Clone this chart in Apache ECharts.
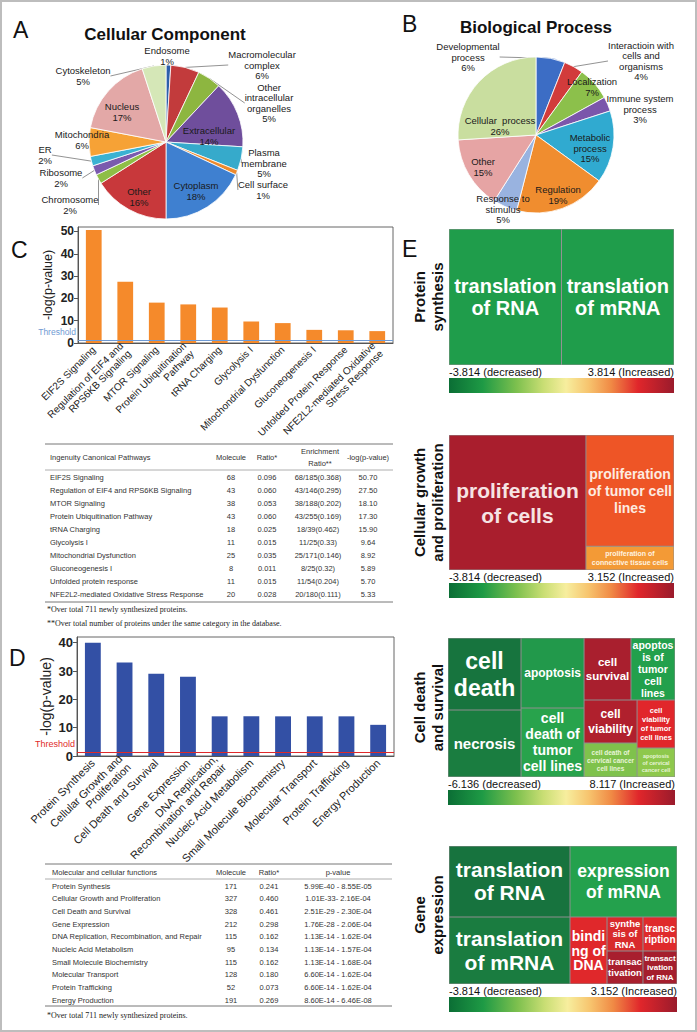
<!DOCTYPE html>
<html><head><meta charset="utf-8">
<script src="https://cdn.jsdelivr.net/npm/echarts@6/dist/echarts.min.js"></script>
<style>html,body{margin:0;padding:0;background:#fff}#c{width:697px;height:1032px}</style>
</head><body><div id="c"></div>
<script>
// ---------------- data ----------------
const ccNames = ['Endosome','Macromolecular\ncomplex','Other\nintracellular\norganelles','Extracellular','Plasma\nmembrane','Cell surface','Cytoplasm','Other','Chromosome','Ribosome','ER','Mitochondria','Nucleus','Cytoskeleton'];
const ccValues = [1,6,5,14,5,1,18,16,2,2,2,6,17,5];
const bpNames = ['Developmental\nprocess','Interactioin with\ncells and\norganisms','Localization','Immune system\nprocess','Metabolic\nprocess','Regulation','Response to\nstimulus','Other','Cellular  process'];
const bpValues = [6,4,7,3,15,19,5,15,26];

const cPathways = ['EIF2S Signaling','Regulation of EIF4 and\nRPS6KB Signaling','MTOR Signaling','Protein Ubiquitination\nPathway','tRNA Charging','Glycolysis I','Mitochondrial Dysfunction','Gluconeogenesis I','Unfolded Protein Response','NFE2L2-mediated Oxidative\nStress Response'];
const cLogP = [50.70,27.50,18.10,17.30,15.90,9.64,8.92,5.89,5.70,5.33];
const cThreshold = 1.3;
const cTableHeader = ['Ingenuity Canonical Pathways','Molecule','Ratio*','Enrichment\nRatio**','-log(p-value)'];
const cTableNames = ['EIF2S Signaling','Regulation of EIF4 and RPS6KB Signaling','MTOR Signaling','Protein Ubiquitination Pathway','tRNA Charging','Glycolysis I','Mitochondrial Dysfunction','Gluconeogenesis I','Unfolded protein response','NFE2L2-mediated Oxidative Stress Response'];
const cMolecule = ['68','43','38','43','18','11','25','8','11','20'];
const cRatio = ['0.096','0.060','0.053','0.060','0.025','0.015','0.035','0.011','0.015','0.028'];
const cEnrich = ['68/185(0.368)','43/146(0.295)','38/188(0.202)','43/255(0.169)','18/39(0.462)','11/25(0.33)','25/171(0.146)','8/25(0.32)','11/54(0.204)','20/180(0.111)'];
const cLogPText = ['50.70','27.50','18.10','17.30','15.90','9.64','8.92','5.89','5.70','5.33'];
const cNotes = ['*Over total 711 newly synthesized proteins.','**Over total number of proteins under the same category in the database.'];

const dFunctions = ['Protein Synthesis','Cellular Growth and\nProliferation','Cell Death and Survival','Gene Expression','DNA Replication,\nRecombination and Repair','Nucleic Acid Metabolism','Small Molecule Biochemistry','Molecular Transport','Protein Trafficking','Energy Production'];
const dLogP = [40,33,29,28,14,14,14,14,14,11];
const dThreshold = 1.3;
const dTableHeader = ['Molecular and cellular functions','Molecule','Ratio*','p-value'];
const dTableNames = ['Protein Synthesis','Cellular Growth and Proliferation','Cell Death and Survival','Gene Expression','DNA Replication, Recombination, and Repair','Nucleic Acid Metabolism','Small Molecule Biochemistry','Molecular Transport','Protein Trafficking','Energy Production'];
const dMolecule = ['171','327','328','212','115','95','115','128','52','191'];
const dRatio = ['0.241','0.460','0.461','0.298','0.162','0.134','0.162','0.180','0.073','0.269'];
const dPvalue = ['5.99E-40 - 8.55E-05','1.01E-33- 2.16E-04','2.51E-29 - 2.30E-04','1.76E-28 - 2.06E-04','1.13E-14 - 1.62E-04','1.13E-14 - 1.57E-04','1.13E-14 - 1.68E-04','6.60E-14 - 1.62E-04','6.60E-14 - 1.62E-04','8.60E-14 - 6.46E-08'];
const dNotes = ['*Over total 711 newly synthesized proteins.'];

const psNames = ['translation\nof RNA','translation\nof mRNA'];
const psValues = [1,1];
const cgNames = ['proliferation\nof cells','proliferation\nof tumor cell\nlines','proliferation of\nconnective tissue cells'];
const cgValues = [185,98,21];
const cdNames = ['cell\ndeath','necrosis','apoptosis','cell\ndeath of\ntumor\ncell lines','cell\nsurvival','apoptos\nis of\ntumor\ncell\nlines','cell\nviability','cell death of\ncervical cancer\ncell lines','cell\nviability\nof tumor\ncell lines','apoptosis\nof cervical\ncancer cell\nlines'];
const cdValues = [52.6,48.9,44.1,43.5,29.1,27.3,22.8,18.0,18.2,11.0];
const geNames = ['translation\nof RNA','translation\nof mRNA','expression\nof mRNA','bindi\nng of\nDNA','synthe\nsis of\nRNA','transac\ntivation','transc\nription','transact\nivation\nof RNA'];
const geValues = [85.9,81.1,76.0,24.8,12.2,11.9,11.6,11.2];
const eGroups = ['Protein\nsynthesis','Cellular growth\nand proliferation','Cell death\nand survival','Gene\nexpression'];
const cbLow = ['-3.814 (decreased)','-3.814 (decreased)','-6.136 (decreased)','-3.814 (decreased)'];
const cbHigh = ['3.814 (Increased)','3.152 (Increased)','8.117 (Increased)','3.152 (Increased)'];

// ---------------- styles ----------------
const FS = "'Liberation Sans', Arial, sans-serif";
const SERIF = "'Liberation Serif', 'Times New Roman', serif";
const ccColors = ['#2D5FAA','#C23B3C','#8DB640','#6F4E9C','#36AACB','#EE8A2C','#3F80D0','#C8383B','#8EBE46','#7A5AAE','#3BB2D2','#F6A236','#E3A8A7','#D5E7B7'];
const ccInside = [false,false,false,true,false,false,true,true,false,false,false,true,true,false];
const ccLine = [false,true,true,false,true,true,false,false,true,true,true,false,false,true];
const ccLabelPos = [[167,56],[262,65],[269,103],[209,136],[264,163],[263,190],[196,191],[139,197],[70,205],[61,178],[45,155],[82,140],[122,112],[83,76]];
const bpColors = ['#3C6DC5','#D23B3B','#8CC04B','#7B56AB','#30AAD0','#F08D2F','#99B3E0','#E6A4A4','#C9DE9F'];
const bpInside = [false,false,true,false,true,true,false,true,true];
const bpLine = [true,true,false,true,false,false,false,false,false];
const bpLabelPos = [[468,57],[641,61],[592,87],[640,109],[590,148],[558,195],[503,209],[483,167],[500,126]];

const psColors = ['#1F9D4B','#1F9D4B'];
const psFonts = [[20,22],[20,22]];
const cgColors = ['#A91E2D','#EE5526','#F39A36'];
const cgFonts = [[21,25,'#F6E4E4'],[14,17,'#FDEBE0'],[7,9,'#FFF3E0']];
const cdColors = ['#17743E','#1A7D40','#22994B','#28A34C','#A91F2E','#22A04C','#B0202D','#7FC24C','#E1262B','#8EC84C'];
const cdFonts = [[23,27],[15,18],[12,14],[14,16],[11.5,14],[10.5,12],[12,15],[6.5,8,'#E8F5D8'],[7.5,9],[5.5,7,'#E8F5D8']];
const geColors = ['#17733E','#1A7C40','#24A14D','#E0282B','#D82A2C','#A81F2E','#DF2A2C','#A51E2D'];
const geFonts = [[21,23],[21,24],[17.5,21],[14,14.5],[9.5,10.5],[9.5,11],[10,11.5],[8,9.5]];
const eBoxes = [[449,229,225,136],[449,435,225,135],[448,638,227,139],[449,846,228,138]];
const cbStops = [[0,'#0B6E35'],[0.15,'#1E9A45'],[0.3,'#7DC04E'],[0.42,'#C9DE74'],[0.52,'#F7EE9E'],[0.62,'#F7C46E'],[0.72,'#F08A45'],[0.84,'#E0262B'],[1,'#9A1B2C']];
const thrColors = ['#6F9AD3','#E02A2A'];
const thrSizes = [8.5, 9];
const grids = [
  {left:78, top:227, width:315, height:116},
  {left:77, top:637, width:317, height:119}
];

// ---------------- graphic helpers ----------------
const g = [];
function txt(text, x, y, opt, extra) {
  g.push(Object.assign({type:'text', x:x, y:y, silent:true,
    style:Object.assign({text:text, fill:'#222', fontSize:10, fontFamily:FS, align:'left', verticalAlign:'middle'}, opt||{})}, extra||{}));
}
function hline(x1, x2, y, color, w) {
  g.push({type:'line', silent:true, shape:{x1:x1,y1:y,x2:x2,y2:y}, style:{stroke:color, lineWidth:w}});
}
g.push({type:'rect', silent:true, shape:{x:1,y:1,width:695,height:1030}, style:{fill:'none', stroke:'#BDBDBD', lineWidth:2}});
txt('A', 13, 30, {fontSize:23, fill:'#111'});
txt('B', 402, 24, {fontSize:23, fill:'#111'});
txt('C', 11, 250, {fontSize:23, fill:'#111'});
txt('D', 9, 658, {fontSize:23, fill:'#111'});
txt('E', 402, 249, {fontSize:23, fill:'#111'});
txt('Cellular Component', 165, 34, {fontSize:17, fontWeight:'bold', align:'center', fill:'#111'});
txt('Biological Process', 536, 27, {fontSize:17, fontWeight:'bold', align:'center', fill:'#111'});

const tFont = {fontSize:7.5, fill:'#333'};
hline(45, 393, 444, '#777', 1);
hline(45, 393, 470, '#999', 0.8);
hline(45, 393, 602, '#777', 1);
const cColX = [50, 231, 267, 320, 368];
cTableHeader.forEach((h, i) => {
  txt(h, cColX[i], 457, Object.assign({}, tFont, {align: i === 0 ? 'left' : 'center', lineHeight:12}));
});
cTableNames.forEach((n, i) => {
  const y = 477 + i * 13.1;
  txt(n, 50, y, tFont);
  txt(cMolecule[i], 231, y, Object.assign({}, tFont, {align:'center'}));
  txt(cRatio[i], 267, y, Object.assign({}, tFont, {align:'center'}));
  txt(cEnrich[i], 318, y, Object.assign({}, tFont, {align:'center'}));
  txt(cLogPText[i], 368, y, Object.assign({}, tFont, {align:'center'}));
});
cNotes.forEach((n, i) => txt(n, 47, 609 + i * 14, {fontSize:8, fontFamily:SERIF, fill:'#222'}));

hline(45, 392, 864, '#777', 1);
hline(45, 392, 879, '#999', 0.8);
hline(45, 392, 1006, '#777', 1);
const dColX = [52, 231, 269, 338];
dTableHeader.forEach((h, i) => {
  txt(h, dColX[i], 872, Object.assign({}, tFont, {align: i === 0 ? 'left' : 'center'}));
});
dTableNames.forEach((n, i) => {
  const y = 886 + i * 12.7;
  txt(n, 52, y, tFont);
  txt(dMolecule[i], 231, y, Object.assign({}, tFont, {align:'center'}));
  txt(dRatio[i], 269, y, Object.assign({}, tFont, {align:'center'}));
  txt(dPvalue[i], 338, y, Object.assign({}, tFont, {align:'center'}));
});
dNotes.forEach((n, i) => txt(n, 47, 1015 + i * 14, {fontSize:8, fontFamily:SERIF, fill:'#222'}));

eBoxes.forEach((b, i) => {
  const [x, y, w, h] = b;
  txt(eGroups[i], 428, y + h / 2, {fontSize:15, fontWeight:'bold', align:'center', lineHeight:18, fill:'#111'}, {rotation: Math.PI / 2});
  txt(cbLow[i], x, y + h + 7, {fontSize:11, fill:'#111'});
  txt(cbHigh[i], x + w, y + h + 7, {fontSize:11, fill:'#111', align:'right'});
  g.push({type:'rect', silent:true, shape:{x:x, y:y + h + 13, width:w, height:15},
    style:{fill:new echarts.graphic.LinearGradient(0, 0, 1, 0, cbStops.map(s => ({offset:s[0], color:s[1]})))}});
});

// ---------------- series builders ----------------
function pieSeries(names, values, colors, inside, lines, pos, center, r) {
  return {
    type:'pie', center:center, radius:r, startAngle:90, clockwise:true, silent:true,
    avoidLabelOverlap:false, minShowLabelAngle:0,
    itemStyle:{borderColor:'#fff', borderWidth:0.8},
    label:{show:true, fontSize:9.5, lineHeight:10.5, color:'#1a1a1a', fontFamily:FS,
      formatter:p => p.name + '\n' + p.value + '%'},
    labelLine:{show:true, length:4, length2:0, lineStyle:{color:'#777', width:0.8}},
    labelLayout:p => ({x:pos[p.dataIndex][0], y:pos[p.dataIndex][1], align:'center', verticalAlign:'middle'}),
    emphasis:{disabled:true},
    data:names.map((n, i) => ({name:n, value:values[i], itemStyle:{color:colors[i]},
      label:inside[i] ? {position:'inside'} : {position:'outside'},
      labelLine:{show:lines[i]}}))
  };
}
function tmSeries(names, values, colors, fonts, box) {
  return {
    type:'treemap', left:box[0], top:box[1], width:box[2], height:box[3],
    roam:false, nodeClick:false, sort:false, squareRatio:1, silent:true,
    breadcrumb:{show:false}, upperLabel:{show:false}, emphasis:{disabled:true},
    itemStyle:{borderWidth:0.5, borderColor:'rgba(0,0,0,0.25)', gapWidth:0},
    levels:[{itemStyle:{borderWidth:0, gapWidth:0}}],
    label:{show:true, position:'inside', align:'center', verticalAlign:'middle', fontWeight:'bold',
      fontFamily:FS, overflow:'none', padding:0, formatter:'{b}'},
    data:names.map((n, i) => ({name:n, value:values[i], itemStyle:{color:colors[i]},
      label:{fontSize:fonts[i][0], lineHeight:fonts[i][1], color:fonts[i][2] || '#fff'}}))
  };
}
function barAxisX(idx, cats, fs) {
  return {gridIndex:idx, type:'category', data:cats,
    axisLine:{lineStyle:{color:'#555'}},
    axisTick:{alignWithLabel:true, length:4, lineStyle:{color:'#555'}},
    axisLabel:{rotate:45, interval:0, fontSize:fs, color:'#222', margin:5, fontFamily:FS, lineHeight:fs + 1}};
}
function barAxisY(idx, max, nameSize, labelSize) {
  return {gridIndex:idx, type:'value', min:0, max:max, interval:10,
    axisLine:{show:true, lineStyle:{color:'#555'}}, axisTick:{show:true, length:4, lineStyle:{color:'#555'}},
    splitLine:{show:false},
    axisLabel:{fontWeight:'bold', fontSize:labelSize, color:'#222', showMaxLabel:false, margin:4, fontFamily:FS},
    name:'-log(p-value)', nameLocation:'middle', nameGap:24, nameRotate:90,
    nameTextStyle:{fontSize:nameSize, color:'#222', fontFamily:FS}};
}
function barSeries(idx, vals, color, thr) {
  return {type:'bar', xAxisIndex:idx, yAxisIndex:idx, data:vals, barWidth:'50%', silent:true,
    itemStyle:{color:color},
    markLine:{silent:true, symbol:'none', data:[{yAxis:thr}],
      lineStyle:{color:thrColors[idx], type:'solid', width:1},
      label:{show:false}}};
}

const option = {
  animation:false,
  backgroundColor:'#fff',
  textStyle:{fontFamily:FS},
  grid:grids.map(gr => Object.assign({show:true, borderColor:'#666', borderWidth:1}, gr)),
  xAxis:[barAxisX(0, cPathways, 10), barAxisX(1, dFunctions, 11)],
  yAxis:[barAxisY(0, 52, 12.5, 12), barAxisY(1, 42, 14, 13)],
  series:[
    pieSeries(ccNames, ccValues, ccColors, ccInside, ccLine, ccLabelPos, [166,142], 77),
    pieSeries(bpNames, bpValues, bpColors, bpInside, bpLine, bpLabelPos, [536,135], 78),
    barSeries(0, cLogP, '#F58A2B', cThreshold),
    barSeries(1, dLogP, '#3350A5', dThreshold),
    tmSeries(psNames, psValues, psColors, psFonts, eBoxes[0]),
    tmSeries(cgNames, cgValues, cgColors, cgFonts, eBoxes[1]),
    tmSeries(cdNames, cdValues, cdColors, cdFonts, eBoxes[2]),
    tmSeries(geNames, geValues, geColors, geFonts, eBoxes[3])
  ],
  graphic:{elements:g}
};
const chart = echarts.init(document.getElementById('c'), null, {renderer:'svg', width:697, height:1032});
chart.setOption(option);
// "Threshold" captions placed at the threshold level via the library's own scale
[cThreshold, dThreshold].forEach((thr, i) => {
  const py = chart.convertToPixel({gridIndex:i}, [0, thr])[1];
  txt('Threshold', grids[i].left - 2, py - 8.5, {fontSize:thrSizes[i], fill:thrColors[i], align:'right'});
});
chart.setOption({graphic:{elements:g}});
</script>
</body></html>
